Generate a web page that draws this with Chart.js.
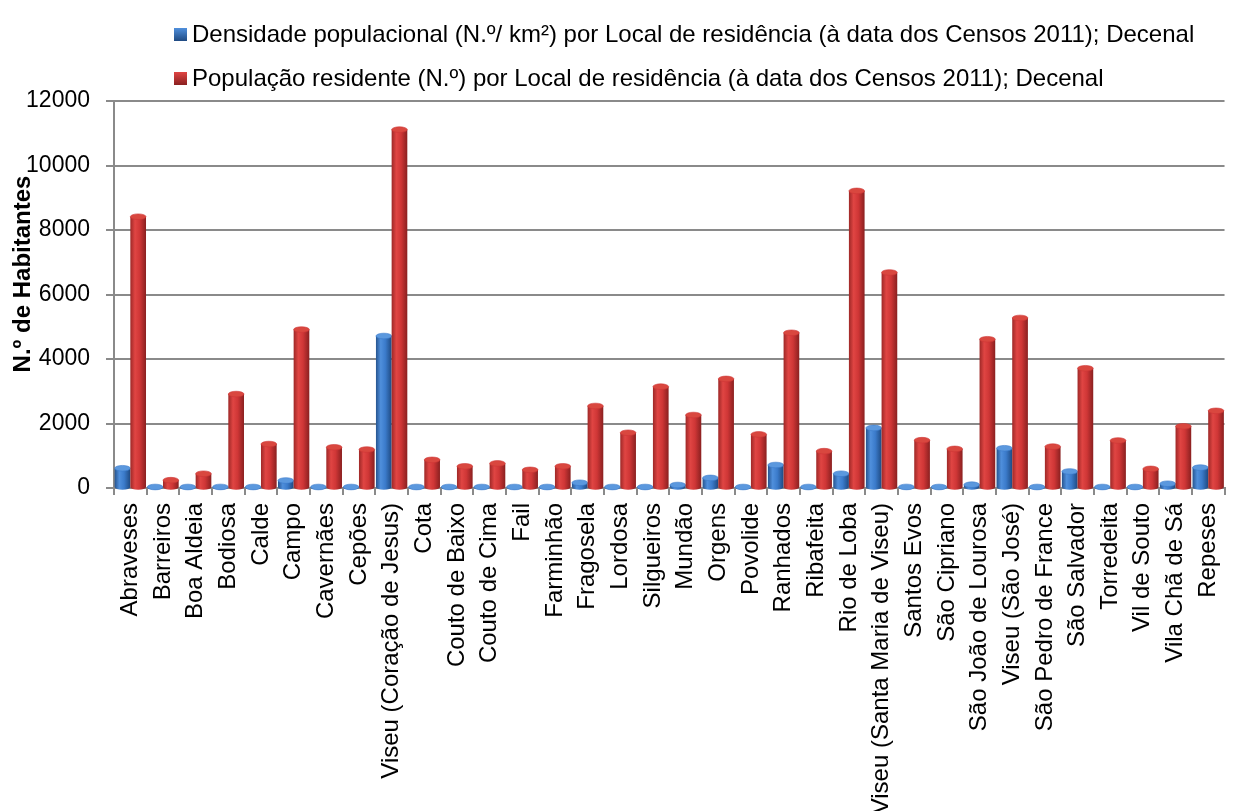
<!DOCTYPE html>
<html>
<head>
<meta charset="utf-8">
<title>Viseu - Censos 2011</title>
<script src="https://cdn.jsdelivr.net/npm/chart.js@4/dist/chart.umd.min.js"></script>
<style>
  html, body { margin: 0; padding: 0; background: #fff; }
  #wrap { position: relative; width: 1245px; height: 811px; overflow: hidden; }
</style>
</head>
<body>
<div id="wrap"><canvas id="chart"></canvas></div>
<script>
// freguesias do concelho de Viseu
var freguesias = ['Abraveses', 'Barreiros', 'Boa Aldeia', 'Bodiosa', 'Calde', 'Campo', 'Cavernães', 'Cepões',
    'Viseu (Coração de Jesus)', 'Cota', 'Couto de Baixo', 'Couto de Cima', 'Fail', 'Farminhão', 'Fragosela',
    'Lordosa', 'Silgueiros', 'Mundão', 'Orgens', 'Povolide', 'Ranhados', 'Ribafeita', 'Rio de Loba',
    'Viseu (Santa Maria de Viseu)', 'Santos Evos', 'São Cipriano', 'São João de Lourosa', 'Viseu (São José)',
    'São Pedro de France', 'São Salvador', 'Torredeita', 'Vil de Souto', 'Vila Chã de Sá', 'Repeses'];

var densidade = [700, 45, 40, 120, 40, 320, 100, 40, 4800, 30, 40, 50, 80, 50, 250, 60, 90,
    180, 400, 80, 800, 50, 530, 1950, 120, 90, 190, 1320, 50, 600, 80, 50, 220, 720];

var populacao = [8500, 330, 530, 3000, 1450, 5000, 1350, 1280, 11200, 960, 760, 850, 650, 760, 2630, 1800, 3230,
    2350, 3470, 1750, 4900, 1230, 9300, 6770, 1570, 1300, 4700, 5360, 1370, 3800, 1560, 680, 2000, 2480];

var serieNomes = [
    'Densidade populacional (N.º/ km²) por Local de residência (à data dos Censos 2011); Decenal',
    'População residente (N.º) por Local de residência (à data dos Censos 2011); Decenal'
];

var yTicks = [0, 2000, 4000, 6000, 8000, 10000, 12000];
var yTitulo = 'N.º de Habitantes';

var FONT = 'Liberation Sans, Arial, sans-serif';
var GRID = '#8a8a8a';

// cores dos cilindros: lado esquerdo, brilho, meio, lado direito, tampa
var cores = [
    {edgeL: '#26548f', hi: '#4f8fdc', mid: '#3b7bcb', edgeR: '#1f4a82', cap: '#5b98de', solid: '#3a72bd'},
    {edgeL: '#9e2827', hi: '#e04543', mid: '#cf3636', edgeR: '#8a2020', cap: '#d9473f', solid: '#c0393b'}
];

// desenha as barras como cilindros (em vez do retangulo normal)
var cilindros = {
    id: 'cilindros',
    beforeDatasetsDraw: function(chart) {
        var ctx = chart.ctx;
        ctx.save();
        chart.data.datasets.forEach(function(ds, di) {
            var meta = chart.getDatasetMeta(di);
            var c = cores[di];
            meta.data.forEach(function(el) {
                var w = el.width, left = el.x - w / 2, right = el.x + w / 2;
                var ry = Math.min(3, w * 0.18);
                var top = Math.min(el.y + ry, el.base);
                var g = ctx.createLinearGradient(left, 0, right, 0);
                g.addColorStop(0, c.edgeL);
                g.addColorStop(0.3, c.hi);
                g.addColorStop(0.6, c.mid);
                g.addColorStop(1, c.edgeR);
                ctx.fillStyle = g;
                // corpo + fundo arredondado
                ctx.beginPath();
                ctx.moveTo(left, top);
                ctx.lineTo(left, el.base);
                ctx.ellipse(el.x, el.base, w / 2, ry, 0, Math.PI, 0, true);
                ctx.lineTo(right, top);
                ctx.closePath();
                ctx.fill();
                // tampa
                ctx.beginPath();
                ctx.ellipse(el.x, top, w / 2, ry, 0, 0, Math.PI * 2);
                ctx.fillStyle = c.cap;
                ctx.fill();
                ctx.strokeStyle = c.mid;
                ctx.lineWidth = 0.6;
                ctx.stroke();
            });
        });
        ctx.restore();
        return false;
    }
};

// legenda em duas linhas e titulo do eixo y
var extras = {
    id: 'extras',
    afterDraw: function(chart) {
        var ctx = chart.ctx;
        ctx.save();
        ctx.font = '24px ' + FONT;
        ctx.textBaseline = 'middle';
        ctx.textAlign = 'left';
        var rows = [34, 78];
        serieNomes.forEach(function(nome, i) {
            var c = cores[i];
            var g = ctx.createLinearGradient(0, rows[i] - 6, 0, rows[i] + 7);
            g.addColorStop(0, c.hi);
            g.addColorStop(1, c.edgeR);
            ctx.fillStyle = g;
            ctx.fillRect(174, rows[i] - 6, 13, 13);
            ctx.fillStyle = '#000';
            ctx.fillText(nome, 192, rows[i] + 1);
        });

        ctx.translate(23, 274);
        ctx.rotate(-Math.PI / 2);
        ctx.font = 'bold 24px ' + FONT;
        ctx.textAlign = 'center';
        ctx.fillStyle = '#000';
        ctx.fillText(yTitulo, 0, 0);
        ctx.restore();
    }
};

var ctx = document.getElementById('chart');
var chart = new Chart(ctx, {
    type: 'bar',
    data: {
        labels: freguesias,
        datasets: [{
            label: serieNomes[0],
            data: densidade,
            backgroundColor: cores[0].solid
        }, {
            label: serieNomes[1],
            data: populacao,
            backgroundColor: cores[1].solid
        }]
    },
    options: {
        responsive: true,
        maintainAspectRatio: false,
        animation: false,
        devicePixelRatio: 1,
        layout: {padding: {top: 101, left: 0, right: 0, bottom: 0}},
        datasets: {bar: {categoryPercentage: 0.96, barPercentage: 1.0}},
        plugins: {
            legend: {display: false},
            tooltip: {enabled: false}
        },
        scales: {
            x: {
                ticks: {
                    autoSkip: false,
                    minRotation: 90,
                    maxRotation: 90,
                    padding: 8,
                    color: '#000',
                    font: {family: FONT, size: 24}
                },
                grid: {
                    offset: true,
                    drawOnChartArea: false,
                    tickLength: 7,
                    color: GRID,
                    lineWidth: 2
                },
                border: {display: true, color: GRID, width: 2},
                afterFit: function(scale) { scale.height = 811 - 488; }
            },
            y: {
                min: 0,
                max: 12000,
                afterBuildTicks: function(scale) {
                    scale.ticks = yTicks.map(function(v) { return {value: v}; });
                },
                ticks: {
                    padding: 16,
                    color: '#000',
                    font: {family: FONT, size: 23},
                    callback: function(v) { return String(v); }
                },
                grid: {
                    color: GRID,
                    lineWidth: 2,
                    tickLength: 8
                },
                border: {display: true, color: GRID, width: 2},
                afterFit: function(scale) { scale.width = 114; }
            }
        }
    },
    plugins: [cilindros, extras]
});
</script>
</body>
</html>
